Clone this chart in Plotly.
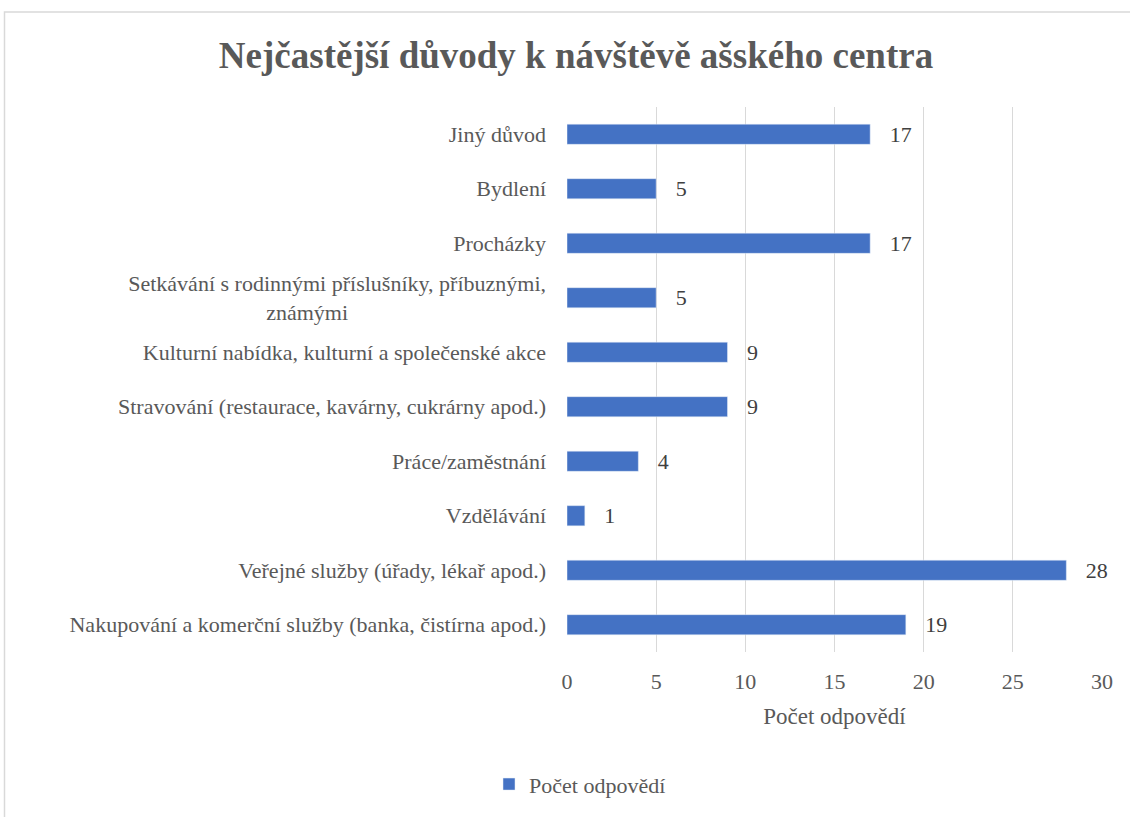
import plotly.graph_objects as go

NB = "\u00a0"
categories = [
    "Nakupování a komerční služby (banka, čistírna apod.)",
    "Veřejné služby (úřady, lékař apod.)",
    "Vzdělávání",
    "Práce/zaměstnání",
    "Stravování (restaurace, kavárny, cukrárny apod.)",
    "Kulturní nabídka, kulturní a společenské akce",
    "Setkávání s rodinnými příslušníky, příbuznými,<br>známými" + NB * 36,
    "Procházky",
    "Bydlení",
    "Jiný důvod",
]
values = [19, 28, 1, 4, 9, 9, 5, 17, 5, 17]
series_name = "Počet odpovědí"
title_text = "Nejčastější důvody k návštěvě ašského centra"

SERIF = "Liberation Serif, Times New Roman, Tinos, DejaVu Serif, serif"
label_font = dict(family=SERIF, size=22, color="#404040")

fig = go.Figure()
fig.add_trace(go.Bar(
    y=categories, x=values, orientation="h", name=series_name,
    marker_color="#4472C4", width=0.37,
    text=values, texttemplate=NB * 3 + "%{x}", textposition="outside",
    textfont=label_font, outsidetextfont=label_font,
    constraintext="none",
    cliponaxis=False,
))
fig.update_layout(
    width=1130, height=817,
    margin=dict(l=567, r=28, t=107, b=162),
    paper_bgcolor="white", plot_bgcolor="white",
    font=dict(family=SERIF, size=21, color="#595959"),
    title=dict(text="<b>" + title_text + "</b>",
               x=576 / 1130, xanchor="center",
               y=1 - 55 / 817, yanchor="middle",
               font=dict(family=SERIF, size=37, color="#595959")),
    xaxis=dict(range=[0, 30], dtick=5, showgrid=True, gridcolor="#D9D9D9",
               gridwidth=1, zeroline=False, showline=False, ticks="",
               ticklabelstandoff=14,
               title=dict(text=series_name, standoff=14,
                          font=dict(family=SERIF, size=23, color="#595959")),
               tickfont=dict(family=SERIF, size=22, color="#595959")),
    yaxis=dict(categoryorder="array", categoryarray=categories,
               showgrid=False, showline=False, ticks="", ticklabelstandoff=20,
               tickfont=dict(family=SERIF, size=22, color="#595959")),
    showlegend=True,
    legend=dict(orientation="h", x=(580 - 567) / 535, xanchor="center",
                y=-(788 - 655) / 548, yanchor="middle",
                font=dict(family=SERIF, size=22, color="#595959")),
    shapes=[dict(type="rect", xref="paper", yref="paper",
                 x0=(4.5 - 567) / 535, x1=1 + 60 / 535,
                 y0=-(817 - 655 + 30) / 548, y1=(655 - 11.5) / 548,
                 line=dict(color="#D9D9D9", width=1.5), layer="below")],
)
fig.write_html("out.html", config={"displayModeBar": False},
               post_script="document.body.style.margin='0px';")
